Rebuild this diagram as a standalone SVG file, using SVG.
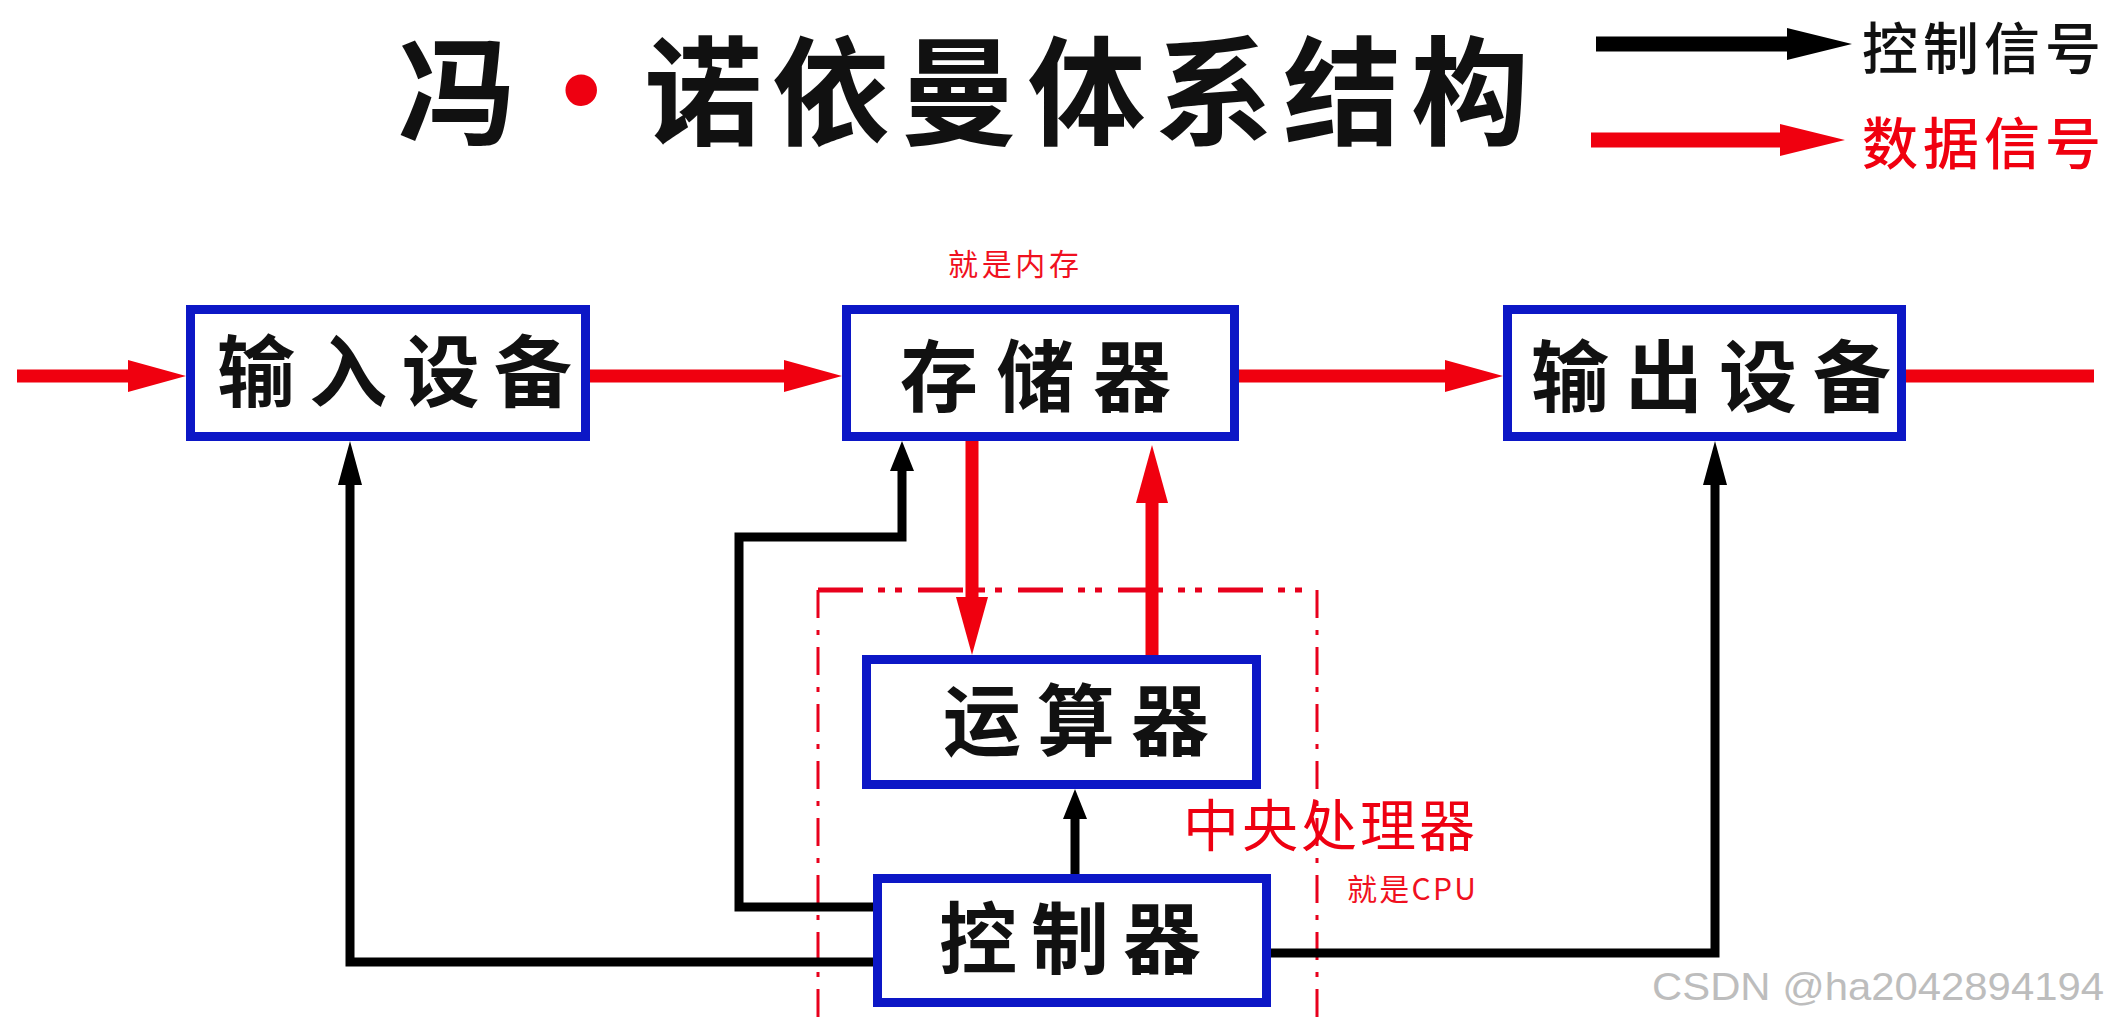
<svg xmlns="http://www.w3.org/2000/svg" width="2104" height="1020" viewBox="0 0 2104 1020">
<style>
.box{fill:#ffffff;stroke:#0c17c6;stroke-width:9}
.lbl{font-family:"Noto Sans CJK SC","Noto Sans CJK TC",sans-serif;font-weight:700;font-size:78px;fill:#111}
.title{font-family:"Noto Sans CJK SC",sans-serif;font-weight:700;font-size:118px;fill:#111}
.leg{font-family:"Noto Sans CJK SC",sans-serif;font-weight:500;font-size:56px}
.note{font-family:"Noto Sans CJK SC",sans-serif;font-size:30px;fill:#f01020}
.data{fill:none;stroke:#f0000f;stroke-width:13}
.ctrl{fill:none;stroke:#000;stroke-width:9;stroke-linejoin:miter}
</style>
<defs>
<marker id="mRed" markerUnits="userSpaceOnUse" markerWidth="58" markerHeight="32" refX="6" refY="16" orient="auto">
<path d="M0,0 L58,16 L0,32 z" fill="#f0000f"/>
</marker>
<marker id="mBlk" markerUnits="userSpaceOnUse" markerWidth="44" markerHeight="26" refX="6" refY="13" orient="auto">
<path d="M0,1 L44,13 L0,25 z" fill="#000"/>
</marker>
<marker id="mBlkS" markerUnits="userSpaceOnUse" markerWidth="30" markerHeight="24" refX="4" refY="12" orient="auto">
<path d="M0,0 L30,12 L0,24 z" fill="#000"/>
</marker>
<marker id="mLegK" markerUnits="userSpaceOnUse" markerWidth="65" markerHeight="32" refX="6" refY="16" orient="auto">
<path d="M0,0 L65,16 L0,32 z" fill="#000"/>
</marker>
<marker id="mLegR" markerUnits="userSpaceOnUse" markerWidth="65" markerHeight="32" refX="6" refY="16" orient="auto">
<path d="M0,0 L65,16 L0,32 z" fill="#f0000f"/>
</marker>
</defs>
<rect x="0" y="0" width="2104" height="1020" fill="#ffffff"/>

<g id="title">
<text class="title"><tspan x="398" y="136">冯</tspan><tspan x="562" y="126" font-family="Liberation Sans, sans-serif" font-size="110" fill="#ee0011">•</tspan><tspan x="644" y="136" textLength="885" lengthAdjust="spacing">诺依曼体系结构</tspan></text>
</g>

<g id="legend">
<line x1="1596" y1="44" x2="1793" y2="44" stroke="#000" stroke-width="15" marker-end="url(#mLegK)"/>
<text class="leg" x="1862" y="69" textLength="239" lengthAdjust="spacing" fill="#111">控制信号</text>
<line x1="1591" y1="140" x2="1786" y2="140" stroke="#f0000f" stroke-width="15" marker-end="url(#mLegR)"/>
<text class="leg" x="1862" y="164" textLength="239" lengthAdjust="spacing" fill="#f0000f">数据信号</text>
</g>

<g id="cpu-region">
<path d="M818,590 H1317" fill="none" stroke="#e8001c" stroke-width="5" stroke-dasharray="45 15 7 10 7 16"/>
<path d="M818,590 V1025 M1317,590 V1025" fill="none" stroke="#e8001c" stroke-width="3" stroke-dasharray="28 12 5 12"/>
<text x="1183" y="846" font-family="Noto Sans CJK SC, sans-serif" font-size="56" fill="#ee0011" textLength="292" lengthAdjust="spacing">中央处理器</text>
</g>

<g id="connectors">
<g id="data-signals">
<line class="data" x1="17" y1="376" x2="134" y2="376" marker-end="url(#mRed)"/>
<line class="data" x1="590" y1="376" x2="790" y2="376" marker-end="url(#mRed)"/>
<line class="data" x1="1239" y1="376" x2="1451" y2="376" marker-end="url(#mRed)"/>
<line class="data" x1="1906" y1="376" x2="2094" y2="376"/>
<line class="data" x1="972" y1="441" x2="972" y2="603" marker-end="url(#mRed)"/>
<line class="data" x1="1152" y1="655" x2="1152" y2="497" marker-end="url(#mRed)"/>
</g>
<g id="control-signals">
<path class="ctrl" d="M873,962 H350 V479" marker-end="url(#mBlk)"/>
<path class="ctrl" d="M873,907 H739 V537 H902 V467" marker-end="url(#mBlkS)"/>
<path class="ctrl" d="M1075,874 V815" marker-end="url(#mBlkS)"/>
<path class="ctrl" d="M1271,953 H1715 V479" marker-end="url(#mBlk)"/>
</g>
</g>

<g id="input">
<rect class="box" x="190.5" y="309.5" width="395" height="127"/>
<text class="lbl" x="217" y="401" textLength="355" lengthAdjust="spacing">输入设备</text>
</g>
<g id="memory">
<rect class="box" x="846.5" y="309.5" width="388" height="127"/>
<text class="lbl" x="900" y="406" textLength="271" lengthAdjust="spacing">存储器</text>
</g>
<g id="output">
<rect class="box" x="1507.5" y="309.5" width="394" height="127"/>
<text class="lbl" x="1531" y="406" textLength="360" lengthAdjust="spacing">输出设备</text>
</g>
<g id="alu">
<rect class="box" x="866.5" y="659.5" width="390" height="125"/>
<text class="lbl" x="943" y="750" textLength="266" lengthAdjust="spacing">运算器</text>
</g>
<g id="controller">
<rect class="box" x="877.5" y="878.5" width="389" height="124"/>
<text class="lbl" x="939" y="968" textLength="262" lengthAdjust="spacing">控制器</text>
</g>

<g id="notes">
<text class="note" x="948" y="275" textLength="131" lengthAdjust="spacing">就是内存</text>
<text class="note" x="1347" y="900" textLength="129" lengthAdjust="spacing">就是CPU</text>
<text x="1652" y="1000" font-family="Liberation Sans, sans-serif" font-size="39" fill="#bdbdbd" textLength="452" lengthAdjust="spacingAndGlyphs">CSDN @ha2042894194</text>
</g>
</svg>
